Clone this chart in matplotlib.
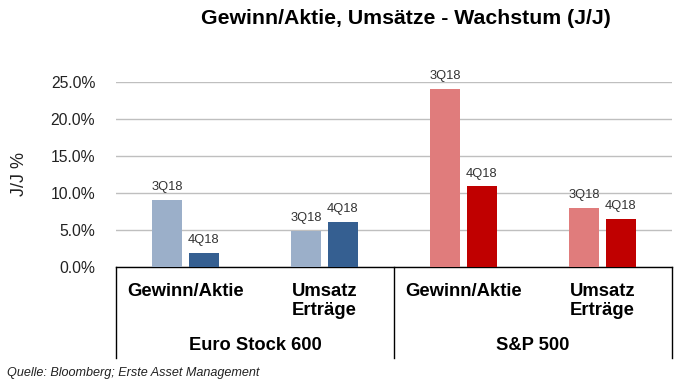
import numpy as np
import matplotlib
matplotlib.use("Agg")
import matplotlib.pyplot as plt
from matplotlib.ticker import FuncFormatter

plt.rcParams['font.family'] = ['Liberation Sans', 'DejaVu Sans']

# data
categories = ['Gewinn/Aktie', 'Umsatz\nErträge', 'Gewinn/Aktie', 'Umsatz\nErträge']
groups = ['Euro Stock 600', 'S&P 500']
q3_values = [9.1, 4.9, 24.1, 8.0]
q4_values = [1.9, 6.1, 10.9, 6.5]
q3_label = '3Q18'
q4_label = '4Q18'

light = ['#9BAFC9', '#9BAFC9', '#E07C7C', '#E07C7C']
dark = ['#355F91', '#355F91', '#C00000', '#C00000']

fig = plt.figure(figsize=(6.96, 3.84), dpi=100)
ax = fig.add_axes([116/696, 1-267/384, (672-116)/696, (267-82)/384])

x = np.arange(len(categories))
w = 0.21
off = 0.133
b3 = ax.bar(x - off, q3_values, w, color=light, zorder=3)
b4 = ax.bar(x + off, q4_values, w, color=dark, zorder=3)

for bars, lab in ((b3, q3_label), (b4, q4_label)):
    for b in bars:
        ax.text(b.get_x() + b.get_width()/2, b.get_height() + 0.9, lab,
                ha='center', va='bottom', fontsize=9.3, color='#333333', clip_on=False)

ax.set_xlim(-0.5, 3.5)
ax.set_ylim(0, 25)
ax.set_yticks(np.arange(0, 26, 5))
ax.yaxis.set_major_formatter(FuncFormatter(lambda v, p: f'{v:.1f}%'))
ax.tick_params(axis='y', length=0, labelsize=11.3, colors='#222222', pad=15)
ax.set_xticks([])
ax.grid(axis='y', color='#BFBFBF', linewidth=1, zorder=0)
for s in ['top', 'right', 'left']:
    ax.spines[s].set_visible(False)
ax.spines['bottom'].set_color('black')
ax.spines['bottom'].set_linewidth(1)

ax.set_ylabel('J/J %', fontsize=13, color='#222222', labelpad=16)

# category axis labels below
tr = ax.get_xaxis_transform()
for i, c in enumerate(categories):
    ax.text(i, -0.085, c, transform=tr, ha='center', va='top', fontsize=13.3,
            fontweight='bold', linespacing=1.15, clip_on=False)
for j, g in enumerate(groups):
    ax.text(2*j + 0.5, -0.425, g, transform=tr, ha='center', va='center',
            fontsize=13.2, fontweight='bold', clip_on=False)
for xv in [-0.5, 1.5, 3.5]:
    ax.plot([xv, xv], [0, -0.49], transform=tr, color='black', linewidth=1, clip_on=False)

fig.text(406/696, 1-18/384, 'Gewinn/Aktie, Umsätze - Wachstum (J/J)', ha='center', va='center',
         fontsize=15.3, fontweight='bold')
fig.text(7/696, 1-373/384, 'Quelle: Bloomberg; Erste Asset Management', ha='left', va='center',
         fontsize=9.1, style='italic', color='#222222')

fig.savefig('out.png', dpi=100)
